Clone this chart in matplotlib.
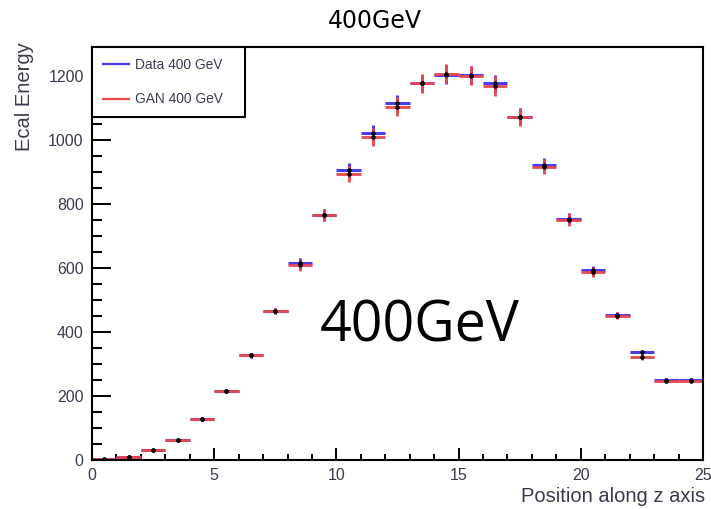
import numpy as np
import matplotlib
matplotlib.use('Agg')
from matplotlib import pyplot as plt
from matplotlib.ticker import MultipleLocator
from matplotlib.lines import Line2D

plt.rcParams['font.family'] = ['Liberation Sans', 'DejaVu Sans']

# bin centres along z (25 layers, width 1)
z = np.arange(25) + 0.5
bin_width = 1.0

data_400 = [2, 8, 32, 63, 128, 215, 327, 465, 614, 765, 905, 1022, 1114, 1176, 1203,
            1203, 1176, 1072, 922, 754, 592, 452, 337, 250, 249]
data_err = [1, 2, 3, 4, 5, 6, 7, 9, 16, 18, 22, 24, 26, 28, 29,
            29, 28, 26, 22, 18, 14, 10, 8, 6, 6]
gan_400 = [2, 8, 32, 63, 128, 215, 327, 465, 608, 765, 893, 1009, 1103, 1176, 1207,
           1200, 1168, 1072, 916, 750, 588, 450, 322, 247, 247]
gan_err = [1, 2, 3, 4, 5, 6, 8, 10, 18, 20, 26, 28, 30, 30, 30,
           30, 30, 28, 24, 20, 16, 11, 9, 6, 6]

label_col = '#3b3b4f'
blue = '#4a3cf0'
red = '#e8474f'

fig = plt.figure(figsize=(7.11, 5.09), dpi=100)
ax = fig.add_axes([0.1294, 0.0963, 0.8593, 0.8114])

ax.errorbar(z, data_400, xerr=bin_width / 2, yerr=data_err, fmt='none',
            ecolor=blue, elinewidth=2.2, capsize=0)
ax.errorbar(z, gan_400, xerr=bin_width / 2, yerr=gan_err, fmt='none',
            ecolor=red, elinewidth=2.0, capsize=0)
ax.plot(z, data_400, 'o', color='black', markersize=2.2, zorder=5)
ax.plot(z, gan_400, 'o', color='black', markersize=2.2, zorder=5)

ax.set_xlim(0, 25)
ax.set_ylim(0, 1290)
ax.xaxis.set_major_locator(MultipleLocator(5))
ax.xaxis.set_minor_locator(MultipleLocator(1))
ax.yaxis.set_major_locator(MultipleLocator(200))
ax.yaxis.set_minor_locator(MultipleLocator(50))
ax.tick_params(which='both', direction='in', top=False, right=False,
               labelsize=11.5, labelcolor=label_col, width=1.4, pad=6)
ax.tick_params(axis='y', which='major', length=14)
ax.tick_params(axis='y', which='minor', length=7)
ax.tick_params(axis='x', which='major', length=9)
ax.tick_params(axis='x', which='minor', length=4.5)
for s in ax.spines.values():
    s.set_linewidth(1.5)

fig.text(0.527, 0.958, '400GeV', fontsize=17, ha='center', va='center',
         family=['DejaVu Sans'])
ax.set_ylabel('Ecal Energy', fontsize=14.5, color=label_col, loc='top')
ax.set_xlabel('Position along z axis', fontsize=14.5, color=label_col, loc='right')
ax.yaxis.set_label_coords(-0.095, 1.012)
ax.xaxis.set_label_coords(1.003, -0.065)

handles = [Line2D([], [], color=blue, lw=1.6), Line2D([], [], color=red, lw=1.6)]
leg = ax.legend(handles, ['Data 400 GeV', 'GAN 400 GeV'], loc='upper left',
                bbox_to_anchor=(0, 0, 0.25, 1), mode='expand', fontsize=9.9,
                frameon=True, fancybox=False, framealpha=1, borderaxespad=0,
                handlelength=1.9, labelspacing=1.5, borderpad=0.78,
                handletextpad=0.45)
leg.get_frame().set_edgecolor('black')
leg.get_frame().set_linewidth(1.5)
for t in leg.get_texts():
    t.set_color(label_col)

fig.text(0.59, 0.358, '400GeV', fontsize=40, family=['Open Sans', 'DejaVu Sans'],
         ha='center', va='center')

fig.savefig('out.png', dpi=100)
